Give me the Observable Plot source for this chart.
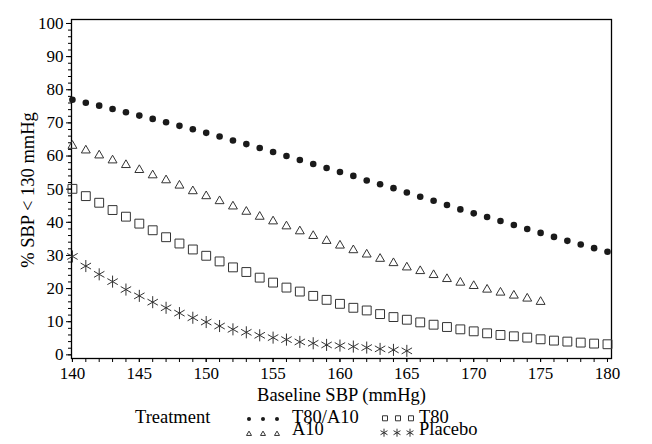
<!DOCTYPE html>
<html><head><meta charset="utf-8">
<script src="https://cdn.jsdelivr.net/npm/d3@7"></script>
<script src="https://cdn.jsdelivr.net/npm/@observablehq/plot@0.6"></script>
<style>
body{margin:0;background:#fff;font-family:"Liberation Serif","Times New Roman","DejaVu Serif",serif;}
#wrap{position:relative;width:652px;height:444px;background:#fff;}
#legend{position:absolute;left:0;top:406px;}
svg text{font-family:"Liberation Serif","Times New Roman","DejaVu Serif",serif;}
</style></head><body><div id="wrap"><div id="chart"></div><div id="legend"></div></div>
<script>
// ---- data ----
const sbpT80A10 = [140,141,142,143,144,145,146,147,148,149,150,151,152,153,154,155,156,157,158,159,160,161,162,163,164,165,166,167,168,169,170,171,172,173,174,175,176,177,178,179,180];
const pctT80A10 = [77.0,76.1,75.2,74.2,73.2,72.2,71.2,70.2,69.1,68.1,67.0,65.9,64.7,63.6,62.4,61.2,60.0,58.8,57.6,56.4,55.2,54.0,52.6,51.5,50.3,49.0,47.7,46.5,45.2,43.9,42.7,41.6,40.4,39.2,38.0,36.8,35.6,34.4,33.3,32.2,31.1];
const sbpA10 = [140,141,142,143,144,145,146,147,148,149,150,151,152,153,154,155,156,157,158,159,160,161,162,163,164,165,166,167,168,169,170,171,172,173,174,175];
const pctA10 = [63.1,61.7,60.2,58.7,57.3,55.8,54.2,52.7,51.1,49.4,47.9,46.4,44.8,43.2,41.7,40.3,38.8,37.3,35.9,34.4,33.0,31.6,30.3,29.0,27.7,26.4,25.3,24.1,22.9,21.8,20.8,19.7,18.8,17.9,17.0,16.0];
const sbpT80 = [140,141,142,143,144,145,146,147,148,149,150,151,152,153,154,155,156,157,158,159,160,161,162,163,164,165,166,167,168,169,170,171,172,173,174,175,176,177,178,179,180];
const pctT80 = [50.1,47.9,45.9,43.7,41.7,39.6,37.6,35.5,33.6,31.8,29.9,28.2,26.4,25.0,23.3,21.8,20.3,19.1,17.8,16.6,15.4,14.2,13.4,12.3,11.4,10.6,9.8,9.1,8.4,7.7,7.1,6.5,6.0,5.6,5.2,4.7,4.3,4.0,3.7,3.4,3.2];
const sbpPlacebo = [140,141,142,143,144,145,146,147,148,149,150,151,152,153,154,155,156,157,158,159,160,161,162,163,164,165];
const pctPlacebo = [29.7,26.8,24.3,22.1,19.7,17.8,15.9,14.2,12.6,11.2,9.9,8.7,7.7,6.8,5.9,5.2,4.6,3.9,3.5,3.0,2.8,2.5,2.2,1.8,1.5,1.2];

const xTicks = [140,145,150,155,160,165,170,175,180];
const xMinorTicks = [140,141,142,143,144,145,146,147,148,149,150,151,152,153,154,155,156,157,158,159,160,161,162,163,164,165,166,167,168,169,170,171,172,173,174,175,176,177,178,179,180];
const yTicks = [0,10,20,30,40,50,60,70,80,90,100];
const yMinorTicks = [0,2,4,6,8,10,12,14,16,18,20,22,24,26,28,30,32,34,36,38,40,42,44,46,48,50,52,54,56,58,60,62,64,66,68,70,72,74,76,78,80,82,84,86,88,90,92,94,96,98,100];

const treatments = ["T80/A10","A10","T80","Placebo"];
const xLabel = "Baseline SBP (mmHg)";
const yLabel = "% SBP < 130 mmHg";
const legendTitle = "Treatment";

const rows = (xs, ys) => xs.map((x, i) => ({x, y: ys[i]}));
const dT80A10 = rows(sbpT80A10, pctT80A10);
const dA10 = rows(sbpA10, pctA10);
const dT80 = rows(sbpT80, pctT80);
const dPlacebo = rows(sbpPlacebo, pctPlacebo);

const font = '"Liberation Serif", "Times New Roman", "DejaVu Serif", serif';
const chart = Plot.plot({
  width: 652, height: 406,
  marginLeft: 71, marginRight: 41, marginTop: 19, marginBottom: 48,
  style: {fontFamily: font, fontSize: "17px", color: "#000", background: "#fff", overflow: "visible"},
  x: {domain: [139.93, 180.3], label: null},
  y: {domain: [-1.1, 101.2], label: null},
  marks: [
    Plot.axisY(yMinorTicks, {tickSize: 3, tickFormat: () => "", label: null}),
    Plot.axisY(yTicks, {tickSize: 5, tickPadding: 3, label: null}),
    Plot.axisX(xMinorTicks, {tickSize: 4, tickFormat: () => "", label: null}),
    Plot.axisX(xTicks, {tickSize: 4, tickPadding: 4, label: null}),
    Plot.text([xLabel], {text: d => d, frameAnchor: "bottom", textAnchor: "middle", lineAnchor: "middle", dy: 37, fontSize: 18.5}),
    Plot.text([yLabel], {text: d => d, frameAnchor: "left", textAnchor: "middle", lineAnchor: "middle", rotate: -90, dx: -43, dy: 1, fontSize: 18.5}),
    Plot.frame({stroke: "#000", strokeWidth: 1.3}),
    Plot.dot(dT80A10, {x: "x", y: "y", symbol: "circle", r: 3.3, fill: "#1a1a1a", stroke: null}),
    Plot.dot(dA10, {x: "x", y: "y", symbol: "triangle", r: 3.3, fill: "none", stroke: "#333", strokeWidth: 1}),
    Plot.dot(dT80, {x: "x", y: "y", symbol: "square", r: 5, fill: "none", stroke: "#333", strokeWidth: 1}),
    Plot.dot(dPlacebo, {x: "x", y: "y", symbol: "asterisk", r: 5.7, fill: "none", stroke: "#333", strokeWidth: 1})
  ]
});
document.getElementById("chart").append(chart);

// ---- legend (below the chart) ----
const svg = d3.select("#legend").append("svg").attr("width", 652).attr("height", 38)
  .style("overflow", "visible")
  .style("font-family", font).style("font-size", "18.5px");
svg.append("text").attr("x", 135).attr("y", 16.7).text(legendTitle);
const sym = (type, size) => d3.symbol(type, size)();
const entries = [
  {label: treatments[0], xs: [249, 263, 277], tx: 292, cy: 13, ty: 16.7, path: sym(d3.symbolCircle, 13), fill: "#1a1a1a", stroke: "none"},
  {label: treatments[1], xs: [249, 263, 277], tx: 292, cy: 28, ty: 29, path: sym(d3.symbolTriangle2, 18), fill: "none", stroke: "#333"},
  {label: treatments[2], xs: [385, 398, 411], tx: 419, cy: 12.3, ty: 16.7, path: sym(d3.symbolSquare2, 32), fill: "none", stroke: "#333"},
  {label: treatments[3], xs: [384, 397, 410], tx: 419, cy: 26.7, ty: 29, path: sym(d3.symbolAsterisk, 45), fill: "none", stroke: "#333"}
];
for (const e of entries) {
  for (const sx of e.xs) {
    svg.append("path").attr("d", e.path).attr("transform", `translate(${sx},${e.cy})`)
      .attr("fill", e.fill).attr("stroke", e.stroke);
  }
  svg.append("text").attr("x", e.tx).attr("y", e.ty).text(e.label);
}
</script></body></html>
